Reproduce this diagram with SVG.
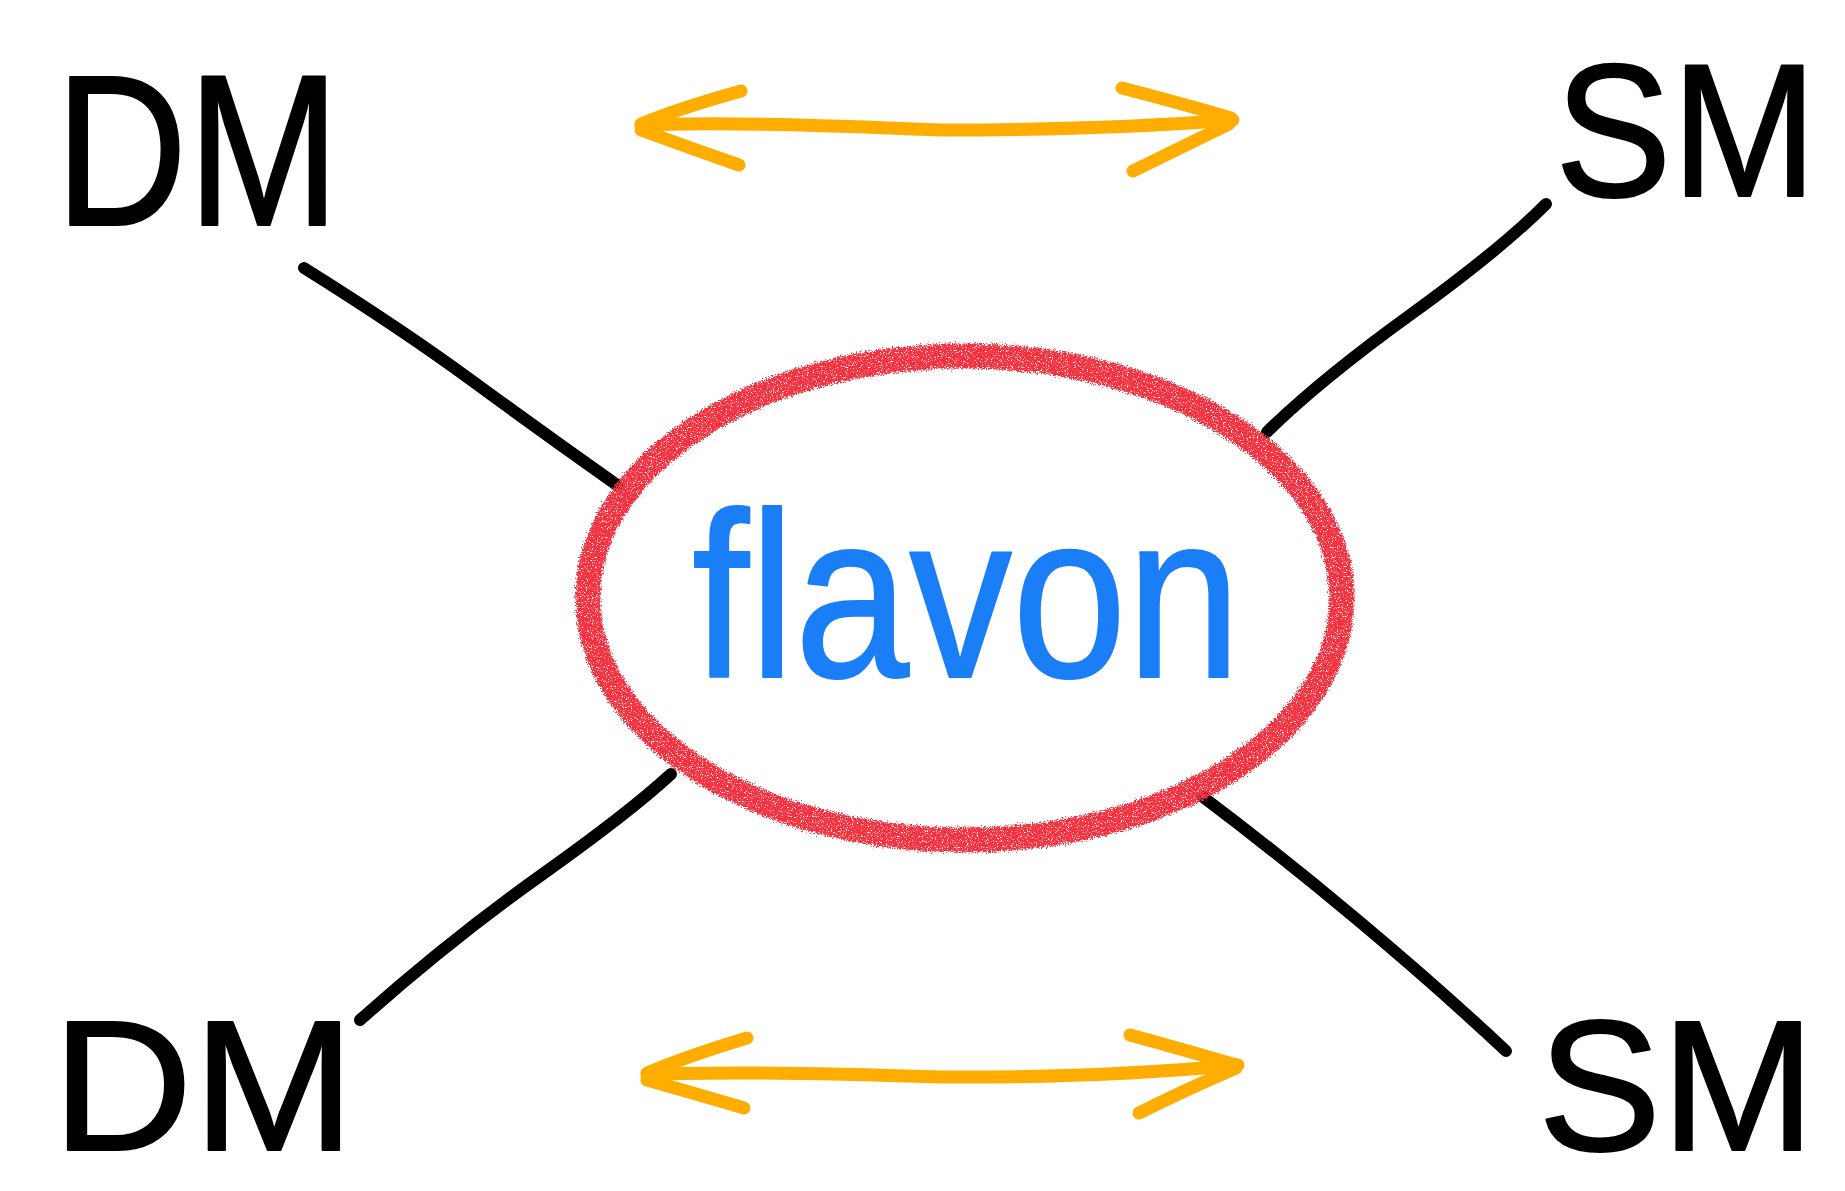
<svg xmlns="http://www.w3.org/2000/svg" width="1845" height="1191" viewBox="0 0 1845 1191">
  <style>
    .label { font-family: "Liberation Sans", "DejaVu Sans", sans-serif; fill: #000; stroke: #000; stroke-width: 2; stroke-linejoin: round; }
    .flavon { font-family: "Liberation Sans", "DejaVu Sans", sans-serif; fill: #1A7EF7; stroke: #1A7EF7; stroke-width: 2; stroke-linejoin: round; }
    .link { fill: none; stroke: #000; stroke-width: 12; stroke-linecap: round; stroke-linejoin: round; }
    .arrow { fill: none; stroke: #FFAD00; stroke-width: 13; stroke-linecap: round; stroke-linejoin: round; }
  </style>
  <defs>
    <!-- grainy wax-crayon look for the ring -->
    <filter id="crayon" x="-5%" y="-5%" width="110%" height="110%">
      <feTurbulence type="fractalNoise" baseFrequency="0.8" numOctaves="3" seed="7" result="noise"/>
      <feDisplacementMap in="SourceGraphic" in2="noise" scale="9" xChannelSelector="R" yChannelSelector="G" result="rough"/>
      <feColorMatrix in="noise" type="matrix" values="0 0 0 0 0  0 0 0 0 0  0 0 0 0 0  7 0 0 0 -1.9" result="grain"/>
      <feComposite in="rough" in2="grain" operator="in"/>
    </filter>
  </defs>

  <rect width="1845" height="1191" fill="#fff"/>

  <!-- lines from the central ring out to each particle -->
  <g id="connectors">
    <path class="link" d="M304,268 Q400,328 471,380 T617,485"/>
    <path class="link" d="M1546,204 Q1500,250 1410,315 T1267,432"/>
    <path class="link" d="M671,774 Q630,812 540,876 T360,1020"/>
    <path class="link" d="M1203,797 Q1280,855 1360,922 T1506,1051"/>

    <!-- double-headed arrow, top -->
    <path class="arrow" d="M641,126 Q700,120 940,130 Q1100,130 1233,120"/>
    <path class="arrow" d="M741,91 Q680,108 641,124 M641,130 Q690,148 739,165"/>
    <path class="arrow" d="M1122,88 Q1180,103 1231,118 M1229,124 Q1180,148 1133,171"/>

    <!-- double-headed arrow, bottom -->
    <path class="arrow" d="M647,1075 Q720,1070 941,1077 Q1100,1078 1238,1065"/>
    <path class="arrow" d="M747,1038 Q690,1055 647,1073 M647,1080 Q700,1095 744,1108"/>
    <path class="arrow" d="M1130,1035 Q1185,1050 1236,1065 M1236,1068 Q1185,1090 1139,1113"/>
  </g>

  <g id="flavon-node">
    <ellipse cx="965" cy="598" rx="377" ry="242" fill="none" stroke="#F7303F" stroke-width="25" filter="url(#crayon)"/>
    <text class="flavon" x="692" y="677" font-size="235" textLength="549" lengthAdjust="spacingAndGlyphs">flavon</text>
  </g>

  <g id="dm-top">
    <text class="label" x="55" y="225" font-size="215" textLength="285" lengthAdjust="spacingAndGlyphs">DM</text>
  </g>
  <g id="sm-top">
    <text class="label" x="1555" y="196" font-size="190" textLength="262" lengthAdjust="spacingAndGlyphs">SM</text>
  </g>
  <g id="dm-bottom">
    <text class="label" x="52" y="1150" font-size="185" textLength="303" lengthAdjust="spacingAndGlyphs">DM</text>
  </g>
  <g id="sm-bottom">
    <text class="label" x="1538" y="1150" font-size="185" textLength="277" lengthAdjust="spacingAndGlyphs">SM</text>
  </g>
</svg>
